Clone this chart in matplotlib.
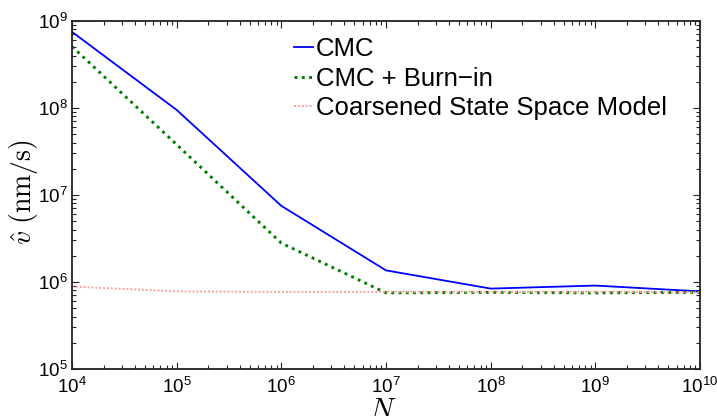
import matplotlib
matplotlib.use("Agg")
import matplotlib.pyplot as plt
from matplotlib.ticker import LogLocator, FuncFormatter, NullFormatter
import numpy as np

plt.rcParams['font.family'] = ['Liberation Sans', 'DejaVu Sans']
plt.rcParams['mathtext.fontset'] = 'cm'

N = [1e4, 1e5, 1e6, 1e7, 1e8, 1e9, 1e10]
cmc = [7.5e8, 9.5e7, 7.5e6, 1.36e6, 8.4e5, 9.1e5, 7.8e5]
cmc_burn = [5.1e8, 3.8e7, 2.8e6, 7.5e5, 7.6e5, 7.5e5, 7.6e5]
coarse = [8.85e5, 7.8e5, 7.7e5, 7.7e5, 7.7e5, 7.7e5, 7.6e5]
labels = ['CMC', 'CMC + Burn\u2212in', 'Coarsened State Space Model']

W, H = 717, 416
fig = plt.figure(figsize=(W/100, H/100), dpi=100)
ax = fig.add_axes([72/W, 1-369/H, (700-72)/W, (369-21)/H])

ax.plot(N, cmc, color='#0000ff', lw=1.3, label=labels[0])
ax.plot(N, cmc_burn, color='#008000', lw=2.1, linestyle=(0, (1, 1.5)), label=labels[1])
ax.plot(N, coarse, color='#ff9f9f', lw=1.4, linestyle=(0, (1, 1)), label=labels[2])

ax.set_xscale('log')
ax.set_yscale('log')
ax.set_xlim(1e4, 1e10)
ax.set_ylim(1e5, 1e9)

fmt = FuncFormatter(lambda v, p: r'$\mathregular{10^{%d}}$' % int(round(np.log10(v))))
ax.xaxis.set_major_locator(LogLocator(base=10, numticks=20))
ax.yaxis.set_major_locator(LogLocator(base=10, numticks=20))
ax.xaxis.set_minor_locator(LogLocator(base=10, subs=np.arange(2, 10), numticks=100))
ax.yaxis.set_minor_locator(LogLocator(base=10, subs=np.arange(2, 10), numticks=100))
ax.xaxis.set_major_formatter(fmt)
ax.yaxis.set_major_formatter(fmt)
ax.xaxis.set_minor_formatter(NullFormatter())
ax.yaxis.set_minor_formatter(NullFormatter())

ax.tick_params(which='both', direction='in', top=True, right=True, labelsize=13.5, width=0.8, colors='#222222', labelcolor='black')
ax.tick_params(which='major', length=5)
ax.tick_params(which='minor', length=3)
ax.tick_params(axis='x', which='major', pad=6)
ax.tick_params(axis='y', which='major', pad=3)
for s in ax.spines.values():
    s.set_linewidth(1.3)
    s.set_color('#222222')

fig.text(24/W, 1-192.5/H, r'$\hat{v}\ (\mathrm{nm/s})$', fontsize=20, rotation=90, ha='center', va='center')
fig.text(383/W, 1-396/H, r'$N$', fontsize=21, ha='center', va='top')

ax.legend(loc='upper left', bbox_to_anchor=(0.3455, 0.9686), frameon=False, fontsize=18.5,
          handlelength=0.75, handletextpad=0.1, labelspacing=0.22, borderpad=0.2, borderaxespad=0)

fig.savefig('out.png', dpi=100)
